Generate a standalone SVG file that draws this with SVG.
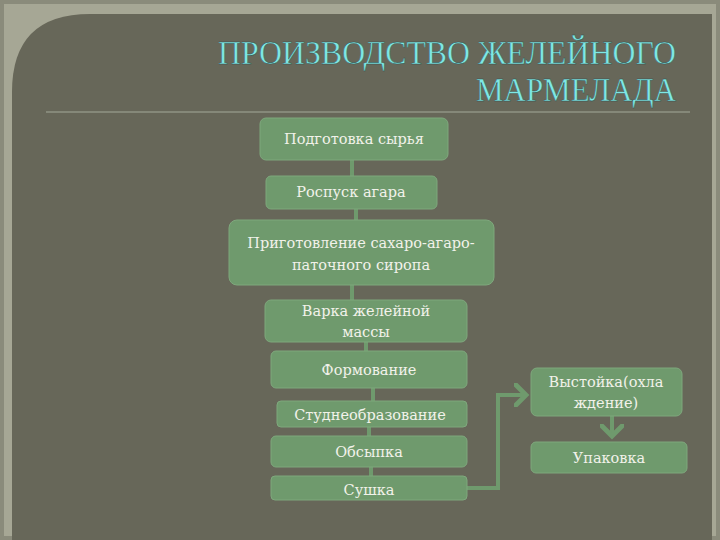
<svg xmlns="http://www.w3.org/2000/svg" width="720" height="540" viewBox="0 0 720 540">
<defs>
<style>
.b{fill:#6f9a6d;stroke:#7fa87d;stroke-width:1}
.t{font-family:"DejaVu Serif","Liberation Serif",serif;font-size:14.5px;fill:#f2f2ea;text-anchor:middle}
.c{stroke:#6f9a6d;stroke-width:4;fill:none}
</style>
<marker id="a" markerWidth="6" markerHeight="6" refX="3" refY="3" orient="auto" markerUnits="strokeWidth"><path d="M0,0 L3,3 L0,6" fill="none" stroke="#6f9a6d" stroke-width="1.2"/></marker>
</defs>
<rect width="720" height="540" fill="#a6a795"/>
<rect x="2" y="2" width="716" height="536" fill="none" stroke="#8a8b7b" stroke-width="4"/>
<path d="M90,14 H712 V540 H12 V92 Q12,14 90,14 Z" fill="#676759"/>
<g id="title" font-family="Liberation Serif,serif" font-size="33" fill="#7fe7e4" text-anchor="end" stroke="#2d4a4a" stroke-width="0.4">
<text x="676" y="64" textLength="458" lengthAdjust="spacingAndGlyphs">ПРОИЗВОДСТВО ЖЕЛЕЙНОГО</text>
<text x="676" y="101" textLength="200" lengthAdjust="spacingAndGlyphs">МАРМЕЛАДА</text>
</g>
<line x1="46" y1="112" x2="690" y2="112" stroke="#8f9384" stroke-width="1.5"/>
<g id="connectors">
<line class="c" x1="352" y1="160" x2="352" y2="176"/>
<line class="c" x1="356" y1="209" x2="356" y2="220"/>
<line class="c" x1="352" y1="285" x2="352" y2="300"/>
<line class="c" x1="366" y1="342" x2="366" y2="351"/>
<line class="c" x1="373" y1="388" x2="373" y2="401"/>
<line class="c" x1="369" y1="427" x2="369" y2="436"/>
<line class="c" x1="371" y1="467" x2="371" y2="476"/>
<path class="c" d="M467,488 H498 V395 H526" marker-end="url(#a)"/>
<path class="c" d="M612,416 V436" marker-end="url(#a)"/>
</g>
<g id="n1"><rect class="b" x="260" y="118" width="188" height="42" rx="6"/><text class="t" x="354" y="144">Подготовка сырья</text></g>
<g id="n2"><rect class="b" x="266" y="176" width="171" height="33" rx="5"/><text class="t" x="351" y="197">Роспуск агара</text></g>
<g id="n3"><rect class="b" x="229" y="220" width="265" height="65" rx="8"/><text class="t" x="361" y="248">Приготовление сахаро-агаро-</text><text class="t" x="361" y="270">паточного сиропа</text></g>
<g id="n4"><rect class="b" x="265" y="300" width="202" height="42" rx="6"/><text class="t" x="366" y="316">Варка желейной</text><text class="t" x="366" y="337">массы</text></g>
<g id="n5"><rect class="b" x="271" y="351" width="196" height="37" rx="5"/><text class="t" x="369" y="375">Формование</text></g>
<g id="n6"><rect class="b" x="277" y="401" width="190" height="26" rx="4"/><text class="t" x="370" y="420">Студнеобразование</text></g>
<g id="n7"><rect class="b" x="271" y="436" width="196" height="31" rx="5"/><text class="t" x="369" y="457">Обсыпка</text></g>
<g id="n8"><rect class="b" x="271" y="476" width="196" height="24" rx="4"/><text class="t" x="369" y="495">Сушка</text></g>
<g id="n9"><rect class="b" x="531" y="368" width="151" height="48" rx="6"/><text class="t" x="606" y="387">Выстойка(охла</text><text class="t" x="606" y="408">ждение)</text></g>
<g id="n10"><rect class="b" x="531" y="442" width="156" height="31" rx="5"/><text class="t" x="609" y="463">Упаковка</text></g>
</svg>
